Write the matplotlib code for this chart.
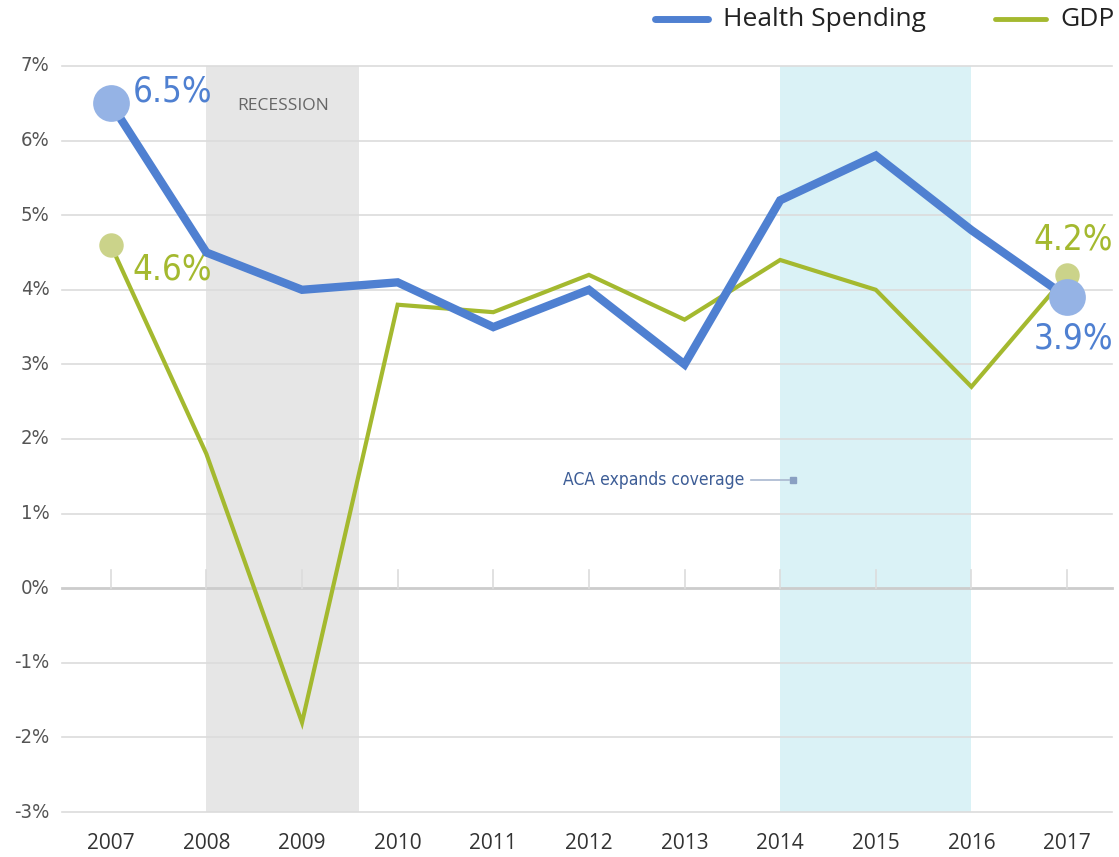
import matplotlib
matplotlib.use('Agg')
import matplotlib.pyplot as plt

# data
years = [2007, 2008, 2009, 2010, 2011, 2012, 2013, 2014, 2015, 2016, 2017]
health = [6.5, 4.5, 4.0, 4.1, 3.5, 4.0, 3.0, 5.2, 5.8, 4.8, 3.9]
gdp = [4.6, 1.8, -1.8, 3.8, 3.7, 4.2, 3.6, 4.4, 4.0, 2.7, 4.2]
yticks = [-3, -2, -1, 0, 1, 2, 3, 4, 5, 6, 7]
recession = (2008, 2009.6)
aca_period = (2014, 2016)

blue = '#4f80d1'
blue_light = '#95b3e5'
green = '#a4b92f'
green_light = '#cbd38a'
cond = dict(family='DejaVu Sans', stretch='condensed')

fig = plt.figure(figsize=(11.19, 8.57), dpi=100)
ax = fig.add_axes([62 / 1119, 45 / 857, 1050 / 1119, 746 / 857])
ax.set_xlim(2006.49, 2017.47)
ax.set_ylim(-3, 7)
for s in ax.spines.values():
    s.set_visible(False)
ax.set_xticks([])
ax.set_yticks([])

# shaded periods
ax.axvspan(*recession, color='#e6e6e6', zorder=0, lw=0)
ax.axvspan(*aca_period, color='#daf2f6', zorder=0, lw=0)

# grid
for t in yticks:
    ax.axhline(t, color='#cccccc' if t == 0 else '#dcdcdc', lw=2 if t == 0 else 1.2,
               zorder=1, clip_on=False)
    ax.text(-0.012, t, f'{t}%', transform=ax.get_yaxis_transform(), ha='right',
            va='center', fontsize=14.5, color='#555555', **cond)
for y in years:
    ax.plot([y, y], [0, 0.24], color='#dcdcdc', lw=1.2, zorder=1)
    ax.text(y, -3.42, str(y), ha='center', va='center', fontsize=15,
            color='#333333', family='Open Sans')

# lines
ax.plot(years, health, color=blue, lw=6, zorder=4, solid_joinstyle='miter')
ax.plot(years, gdp, color=green, lw=3, zorder=3, solid_joinstyle='miter')

# end markers
ax.scatter([years[0], years[-1]], [gdp[0], gdp[-1]], s=310, color=green_light, zorder=5, lw=0)
ax.scatter([years[0], years[-1]], [health[0], health[-1]], s=700, color=blue_light, zorder=6, lw=0)

# value labels
ax.text(2007.23, health[0] + 0.16, f'{health[0]}%', color=blue, fontsize=25,
        ha='left', va='center', **cond)
ax.text(2007.23, gdp[0] - 0.33, f'{gdp[0]}%', color=green, fontsize=25,
        ha='left', va='center', **cond)
ax.text(2017.48, gdp[-1] + 0.47, f'{gdp[-1]}%', color=green, fontsize=25,
        ha='right', va='center', **cond)
ax.text(2017.48, health[-1] - 0.55, f'{health[-1]}%', color=blue, fontsize=25,
        ha='right', va='center', **cond)

# annotations
ax.text(2008.8, 6.46, 'RECESSION', ha='center', va='center', fontsize=12.5,
        color='#666666', family='Open Sans')
ax.plot([2013.70, 2014.09], [1.45, 1.45], color='#a9b8cf', lw=1.2, zorder=2)
ax.plot([2014.13], [1.45], marker='s', ms=5, color='#8aa0c2', zorder=2, lw=0)
ax.text(2013.63, 1.45, 'ACA expands coverage', ha='right', va='center', fontsize=12.5,
        color='#3d5d96', **cond)

# legend
fig.lines.append(plt.Line2D([655 / 1119, 708 / 1119], [838 / 857, 838 / 857],
                            color=blue, lw=5, solid_capstyle='round', transform=fig.transFigure))
fig.lines.append(plt.Line2D([995 / 1119, 1046 / 1119], [838 / 857, 838 / 857],
                            color=green, lw=3.5, solid_capstyle='round', transform=fig.transFigure))
fig.text(723 / 1119, 838 / 857, 'Health Spending', fontsize=19, color='#222222',
         family='Open Sans', va='center', ha='left')
fig.text(1060 / 1119, 838 / 857, 'GDP', fontsize=19, color='#222222',
         family='Open Sans', va='center', ha='left')

fig.savefig('out.png', dpi=100)
